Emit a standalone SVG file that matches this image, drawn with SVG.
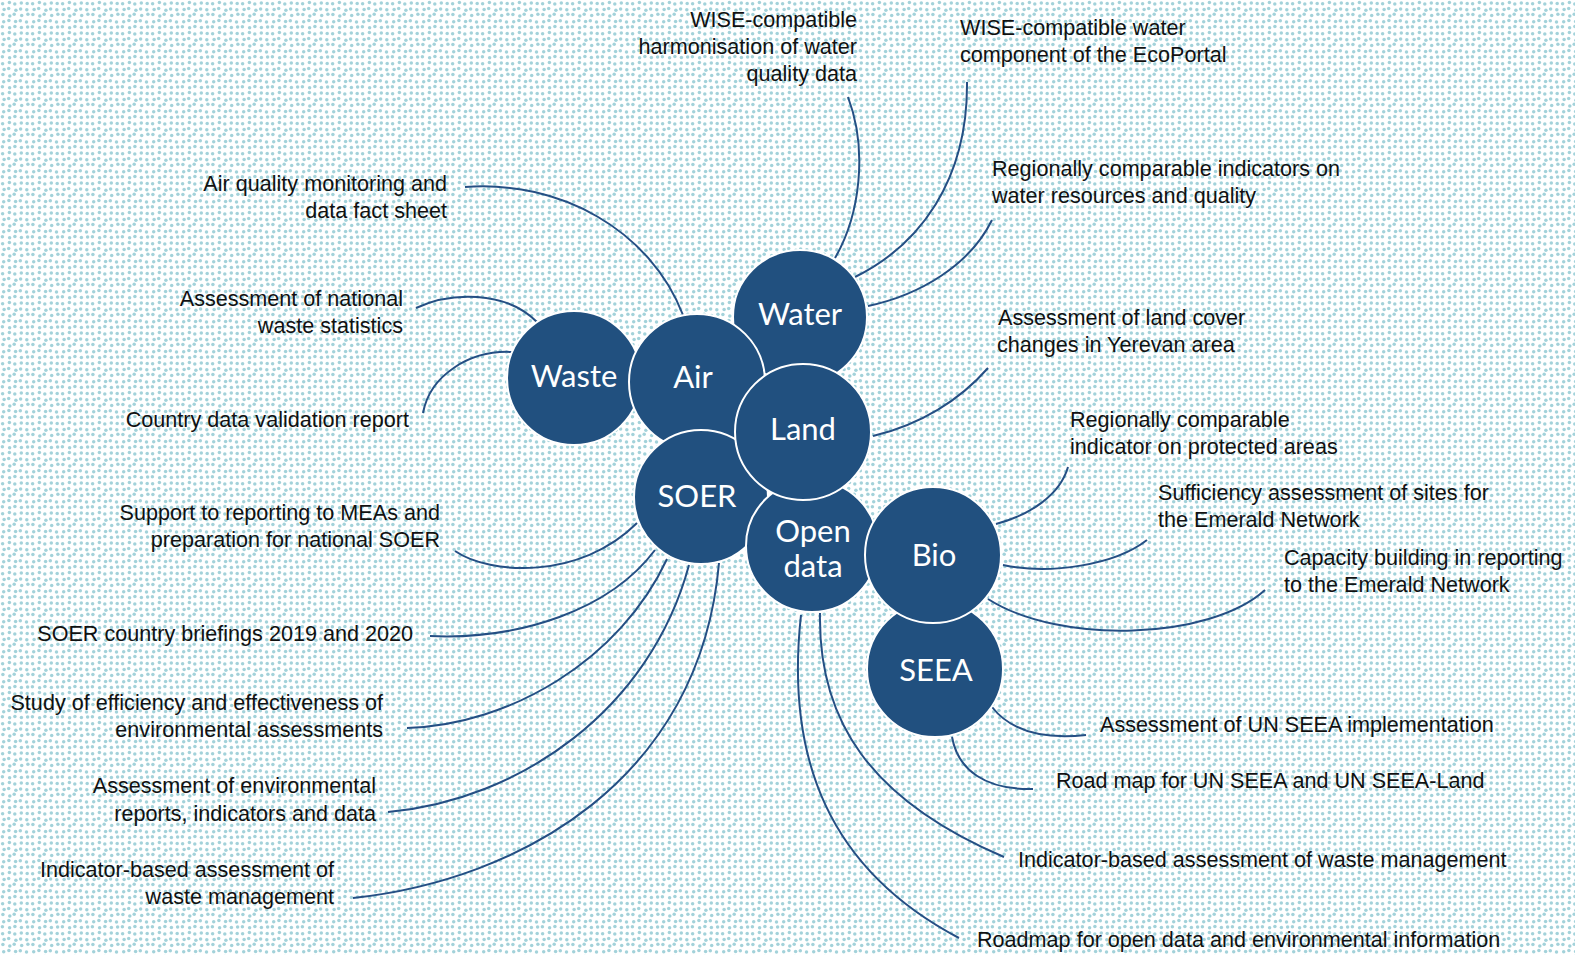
<svg xmlns="http://www.w3.org/2000/svg" width="1575" height="955" viewBox="0 0 1575 955">
<defs>
<pattern id="dots" width="30" height="30" patternUnits="userSpaceOnUse">
<g fill="#a3d2da">
<circle cx="2.6" cy="3.8" r="1.75"/><circle cx="9.4" cy="2.5" r="1.75"/><circle cx="14.8" cy="4.1" r="1.75"/><circle cx="21.3" cy="2.9" r="1.75"/><circle cx="27.2" cy="3.6" r="1.75"/>
<circle cx="4.1" cy="9.6" r="1.75"/><circle cx="8.7" cy="8.4" r="1.75"/><circle cx="15.9" cy="10.2" r="1.75"/><circle cx="20.6" cy="8.9" r="1.75"/><circle cx="26.8" cy="9.7" r="1.75"/>
<circle cx="2.9" cy="14.6" r="1.75"/><circle cx="9.8" cy="15.9" r="1.75"/><circle cx="14.2" cy="14.3" r="1.75"/><circle cx="21.7" cy="15.5" r="1.75"/><circle cx="27.9" cy="14.2" r="1.75"/>
<circle cx="3.7" cy="21.8" r="1.75"/><circle cx="8.9" cy="20.5" r="1.75"/><circle cx="15.6" cy="21.4" r="1.75"/><circle cx="20.3" cy="20.8" r="1.75"/><circle cx="26.5" cy="21.9" r="1.75"/>
<circle cx="2.4" cy="26.7" r="1.75"/><circle cx="9.6" cy="27.8" r="1.75"/><circle cx="14.9" cy="26.4" r="1.75"/><circle cx="21.4" cy="27.6" r="1.75"/><circle cx="27.6" cy="26.9" r="1.75"/>
</g>
</pattern>
<style>
.hub{fill:#21507f;stroke:#ffffff;stroke-width:2}
.hubt{fill:#ffffff;font-family:Lato,"Liberation Sans",sans-serif;font-size:31px;text-anchor:middle}
.lbl{fill:#111111;font-family:"Liberation Sans",Arial,sans-serif;font-size:21.6px}
.r{text-anchor:end}
.l{text-anchor:start}
.con{fill:none;stroke:#254f84;stroke-width:2}
</style>
</defs>
<rect width="1575" height="955" fill="#ffffff"/>
<rect width="1575" height="955" fill="url(#dots)"/>

<g id="connectors">
<path class="con" d="M848,97 C868,150 860,215 835,258"/>
<path class="con" d="M967,82 C968,180 920,245 855,277"/>
<path class="con" d="M992,220 C970,265 920,295 868,306"/>
<path class="con" d="M988,368 C960,400 920,425 873,436"/>
<path class="con" d="M465,187 C560,180 650,230 683,315"/>
<path class="con" d="M416,308 C450,292 505,290 537,322"/>
<path class="con" d="M423,413 C430,375 470,350 512,352"/>
<path class="con" d="M455,551 C490,575 580,580 637,523"/>
<path class="con" d="M430,636 C520,640 610,610 655,550"/>
<path class="con" d="M407,728 C510,725 620,660 667,559"/>
<path class="con" d="M388,812 C520,800 650,710 689,565"/>
<path class="con" d="M353,898 C520,880 700,780 719,563"/>
<path class="con" d="M1068,467 C1060,495 1030,515 996,524"/>
<path class="con" d="M1147,540 C1115,565 1050,575 1003,565"/>
<path class="con" d="M1265,590 C1210,640 1060,645 988,599"/>
<path class="con" d="M992,707 C1010,730 1040,740 1086,735"/>
<path class="con" d="M952,737 C958,770 985,790 1033,789"/>
<path class="con" d="M820,613 C818,720 870,800 1004,857"/>
<path class="con" d="M801,615 C785,760 830,870 959,938"/>
</g>

<g id="node-waste"><circle class="hub" cx="574" cy="378" r="67"/><text class="hubt" x="574" y="387">Waste</text></g>
<g id="node-water"><circle class="hub" cx="800" cy="317" r="67"/><text class="hubt" x="800" y="325">Water</text></g>
<g id="node-air"><circle class="hub" cx="697" cy="382" r="68"/><text class="hubt" x="693" y="388">Air</text></g>
<g id="node-soer"><circle class="hub" cx="701" cy="497" r="67"/><text class="hubt" x="697" y="507">SOER</text></g>
<g id="node-opendata"><circle class="hub" cx="812" cy="546" r="66"/><text class="hubt" x="813" y="542">Open</text><text class="hubt" x="813" y="577">data</text></g>
<g id="node-land"><circle class="hub" cx="803" cy="432" r="68"/><text class="hubt" x="803" y="440">Land</text></g>
<g id="node-seea"><circle class="hub" cx="935" cy="669" r="68"/><text class="hubt" x="936" y="681">SEEA</text></g>
<g id="node-bio"><circle class="hub" cx="933" cy="555" r="68"/><text class="hubt" x="934" y="566">Bio</text></g>

<g id="lbl-wise-harm"><text class="lbl r" x="857" y="27">WISE-compatible</text><text class="lbl r" x="857" y="54">harmonisation of water</text><text class="lbl r" x="857" y="81">quality data</text></g>
<g id="lbl-wise-eco"><text class="lbl l" x="960" y="35">WISE-compatible water</text><text class="lbl l" x="960" y="62">component of the EcoPortal</text></g>
<g id="lbl-water-ind"><text class="lbl l" x="992" y="176">Regionally comparable indicators on</text><text class="lbl l" x="992" y="203">water resources and quality</text></g>
<g id="lbl-land"><text class="lbl l" x="998" y="325">Assessment of land cover</text><text class="lbl l" x="997" y="352">changes in Yerevan area</text></g>
<g id="lbl-protected"><text class="lbl l" x="1070" y="427">Regionally comparable</text><text class="lbl l" x="1070" y="454">indicator on protected areas</text></g>
<g id="lbl-sufficiency"><text class="lbl l" x="1158" y="500">Sufficiency assessment of sites for</text><text class="lbl l" x="1158" y="527">the Emerald Network</text></g>
<g id="lbl-capacity"><text class="lbl l" x="1284" y="565">Capacity building in reporting</text><text class="lbl l" x="1284" y="592">to the Emerald Network</text></g>
<g id="lbl-seea-impl"><text class="lbl l" x="1100" y="732">Assessment of UN SEEA implementation</text></g>
<g id="lbl-seea-road"><text class="lbl l" x="1056" y="788">Road map for UN SEEA and UN SEEA-Land</text></g>
<g id="lbl-waste-mgmt-r"><text class="lbl l" x="1018" y="867">Indicator-based assessment of waste management</text></g>
<g id="lbl-roadmap"><text class="lbl l" x="977" y="947">Roadmap for open data and environmental information</text></g>
<g id="lbl-air"><text class="lbl r" x="447" y="191">Air quality monitoring and</text><text class="lbl r" x="447" y="218">data fact sheet</text></g>
<g id="lbl-waste-stat"><text class="lbl r" x="403" y="306">Assessment of national</text><text class="lbl r" x="403" y="333">waste statistics</text></g>
<g id="lbl-country"><text class="lbl r" x="409" y="427">Country data validation report</text></g>
<g id="lbl-meas"><text class="lbl r" x="440" y="520">Support to reporting to MEAs and</text><text class="lbl r" x="440" y="547">preparation for national SOER</text></g>
<g id="lbl-briefings"><text class="lbl r" x="413" y="641">SOER country briefings 2019 and 2020</text></g>
<g id="lbl-study"><text class="lbl r" x="383" y="710">Study of efficiency and effectiveness of</text><text class="lbl r" x="383" y="737">environmental assessments</text></g>
<g id="lbl-env-reports"><text class="lbl r" x="376" y="793">Assessment of environmental</text><text class="lbl r" x="376" y="821">reports, indicators and data</text></g>
<g id="lbl-waste-mgmt-l"><text class="lbl r" x="334" y="877">Indicator-based assessment of</text><text class="lbl r" x="334" y="904">waste management</text></g>
</svg>
